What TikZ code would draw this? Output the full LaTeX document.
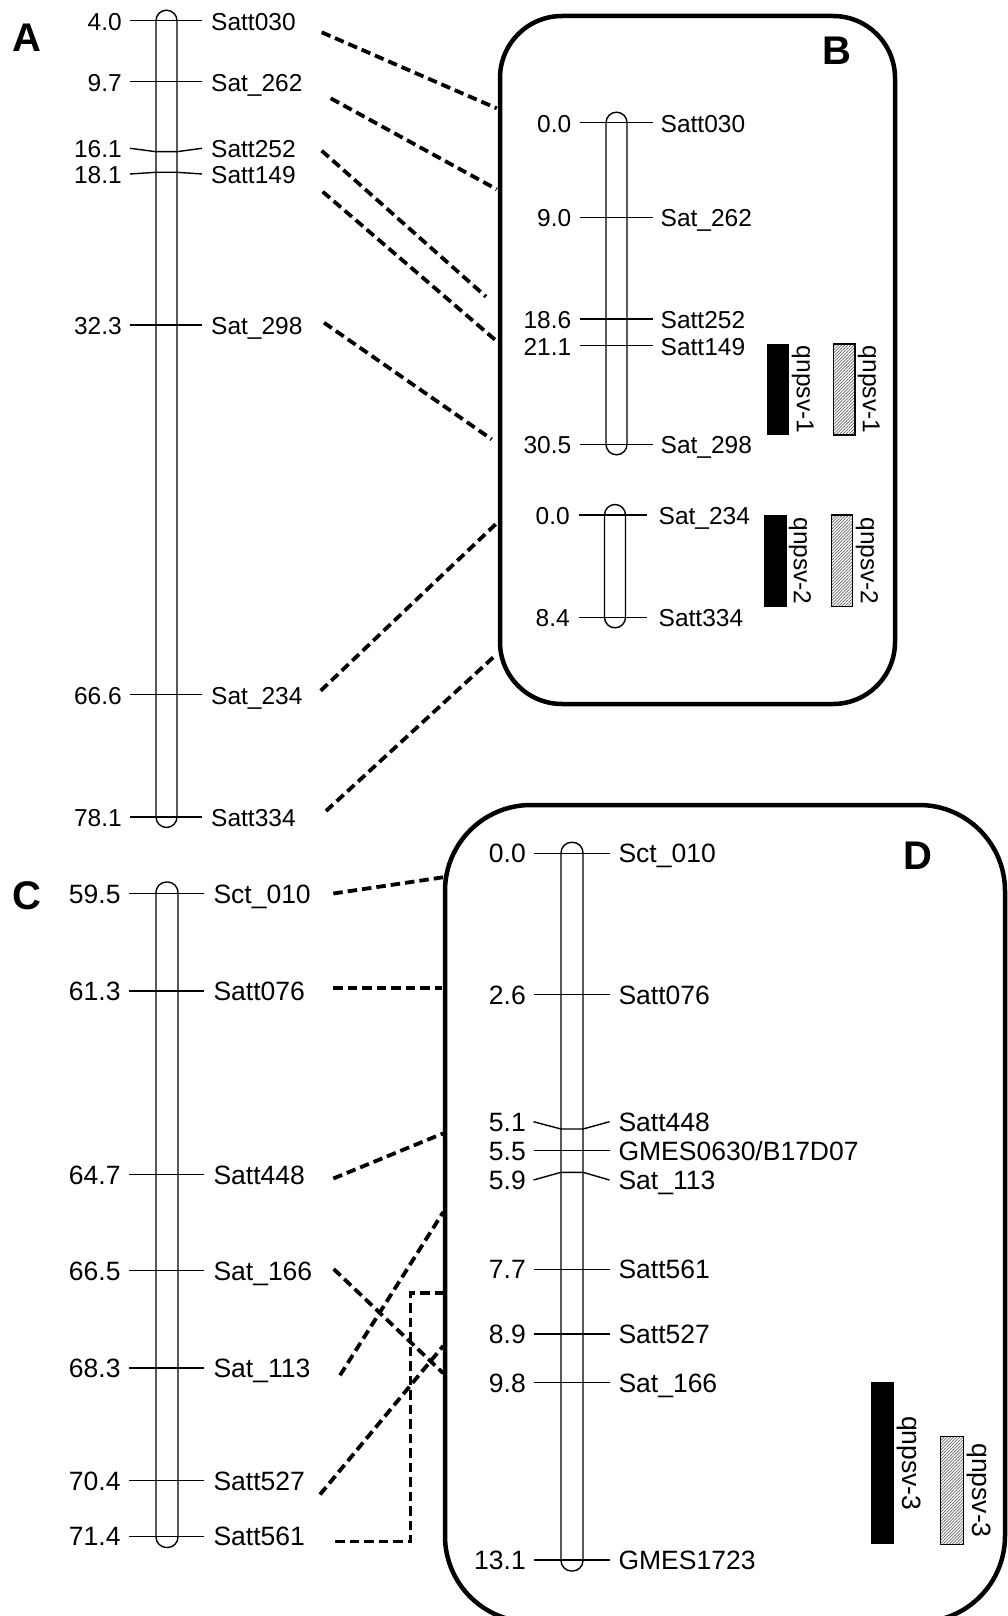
\documentclass[tikz,border=0pt]{standalone}
\usepackage{fontspec}
\setmainfont{Liberation Sans}
\usetikzlibrary{patterns.meta}
\tikzset{
  kromo/.style={draw,line width=1.4pt,rounded corners=10.5pt},
  jel/.style={line width=1.4pt},
  keret/.style={draw,line width=4.5pt},
  szagg/.style={line width=3.8pt,dash pattern=on 9.5pt off 5pt},
  szam/.style={anchor=base east,inner sep=0pt,yshift=-9.5pt},
  nev/.style={anchor=base west,inner sep=0pt,yshift=-9.5pt},
  betu/.style={font=\fontsize{40}{44}\selectfont\bfseries,inner sep=0pt},
  fek/.style={fill=black},
  sraf/.style={draw,line width=1.4pt,pattern={Lines[angle=45,distance=2.2pt,line width=0.7pt]},pattern color=black!60},
  qfel/.style={rotate=-90,anchor=south,inner sep=0pt},
}

\begin{document}
\begin{tikzpicture}[x=1pt,y=-1pt,font=\fontsize{24.5}{28}\selectfont]
  \useasboundingbox (0,0) rectangle (1008,1616);
  \node[betu] (lA) at (27,38) {A};
  \node[betu] (lB) at (836.5,51) {B};
  \node[betu] (lC) at (27,896) {C};
  \node[betu] (lD) at (918.3,855.3) {D};

  \draw[kromo] (156,10.2) rectangle (177,827.5);
  \foreach \y/\ly/\szam/\nev [count=\i] in {20.7/20.7/4.0/Satt030,81.7/81.7/9.7/Sat\_262,
      151.7/148.3/16.1/Satt252,172.3/174/18.1/Satt149,325/325/32.3/Sat\_298,
      694.5/694.5/66.6/Sat\_234,817/817/78.1/Satt334} {
    \draw[jel] (130,\ly) -- (156,\y) -- (177,\y) -- (202,\ly);
    \node[szam] (asz\i) at (122,\ly) {\szam};
    \node[nev] (anev\i) at (211,\ly) {\nev};
  }

  \draw[keret,rounded corners=62pt] (500,16) rectangle (895,704);
  \draw[kromo] (606,112.2) rectangle (627,454.8);
  \foreach \y/\szam/\nev [count=\i] in {122.7/0.0/Satt030,217.3/9.0/Sat\_262,
      319/18.6/Satt252,345.7/21.1/Satt149,444.3/30.5/Sat\_298} {
    \draw[jel] (580,\y) -- (653,\y);
    \node[szam] (bsz\i) at (571.5,\y) {\szam};
    \node[nev] (bnev\i) at (660.5,\y) {\nev};
  }
  \draw[kromo] (604.5,504.5) rectangle (625.5,627.8);
  \foreach \y/\szam/\nev [count=\i] in {515/0.0/Sat\_234,617.3/8.4/Satt334} {
    \draw[jel] (578.5,\y) -- (646.5,\y);
    \node[szam] (bbsz\i) at (570,\y) {\szam};
    \node[nev] (bbnev\i) at (658.5,\y) {\nev};
  }
  \fill[fek] (767.3,344) rectangle (789,435);
  \node[qfel] (q1f) at (791.5,389.5) {qnpsv-1};
  \draw[sraf] (833.3,344) rectangle (855,435);
  \node[qfel] (q1s) at (857.5,389.5) {qnpsv-1};
  \fill[fek] (764.3,515) rectangle (786.7,606.7);
  \node[qfel] (q2f) at (788.5,561) {qnpsv-2};
  \draw[sraf] (831.7,515) rectangle (852.7,606.7);
  \node[qfel] (q2s) at (855.5,561) {qnpsv-2};

  \foreach \xa/\ya/\xb/\yb [count=\i] in {321.7/32.3/496.7/108.3,330.7/98.3/496.7/189.3,
      321.7/150.7/486/296.7,322.7/191.7/497.3/341.7,324/322.7/491.7/439.3,
      320.7/690.7/498.3/521.7,326/811/493.3/657.3} {
    \coordinate (abk\i) at (\xa,\ya);
    \coordinate (abv\i) at (\xb,\yb);
    \draw[szagg] (abk\i) -- (abv\i);
  }

  \begin{scope}[font=\fontsize{26.5}{30}\selectfont]
    \draw[kromo] (156,882) rectangle (178,1547.5);
    \foreach \y/\szam/\nev [count=\i] in {893.5/59.5/Sct\_010,990.8/61.3/Satt076,
        1174.7/64.7/Satt448,1270.7/66.5/Sat\_166,1368/68.3/Sat\_113,
        1480.5/70.4/Satt527,1536.3/71.4/Satt561} {
      \draw[jel] (129.3,\y) -- (204,\y);
      \node[szam] (csz\i) at (120.7,\y) {\szam};
      \node[nev] (cnev\i) at (213.3,\y) {\nev};
    }

    \draw[keret,rounded corners=86pt] (445,805) rectangle (1005,1622);
    \draw[kromo] (561,842.3) rectangle (583,1571);
    \foreach \y/\ly/\szam/\nev [count=\i] in {853.3/853.3/0.0/Sct\_010,994.5/994.5/2.6/Satt076,
        1129/1121.7/5.1/Satt448,1150.7/1150.7/5.5/{GMES0630/B17D07},1172.3/1180/5.9/Sat\_113,
        1269.3/1269.3/7.7/Satt561,1334/1334/8.9/Satt527,1382.7/1382.7/9.8/Sat\_166,
        1560/1560/13.1/GMES1723} {
      \draw[jel] (533.5,\ly) -- (561,\y) -- (583,\y) -- (609.5,\ly);
      \node[szam] (dsz\i) at (526,\ly) {\szam};
      \node[nev] (dnev\i) at (618.3,\ly) {\nev};
    }
    \fill[fek] (870.7,1382.3) rectangle (894,1544.3);
    \node[qfel] (q3f) at (897,1463.3) {qnpsv-3};
    \draw[sraf] (940.7,1436.7) rectangle (963.3,1544.3);
    \node[qfel] (q3s) at (966.5,1490.5) {qnpsv-3};
  \end{scope}

  \foreach \xa/\ya/\xb/\yb [count=\i] in {333.3/893.5/445/877,333.3/988/441.7/988,
      333.3/1178.5/443.3/1133.3,340/1375.3/443.3/1212,333.7/1269/443.3/1373.3,
      320/1494.5/443.3/1345.8} {
    \coordinate (cdk\i) at (\xa,\ya);
    \coordinate (cdv\i) at (\xb,\yb);
    \draw[szagg] (cdk\i) -- (cdv\i);
  }
  \coordinate (cdk7) at (335,1541.5);
  \coordinate (cdm7) at (410.5,1293);
  \coordinate (cdv7) at (443.3,1293);
  \draw[szagg] (cdk7) -| (cdm7) -- (cdv7);
\end{tikzpicture}
\end{document}
